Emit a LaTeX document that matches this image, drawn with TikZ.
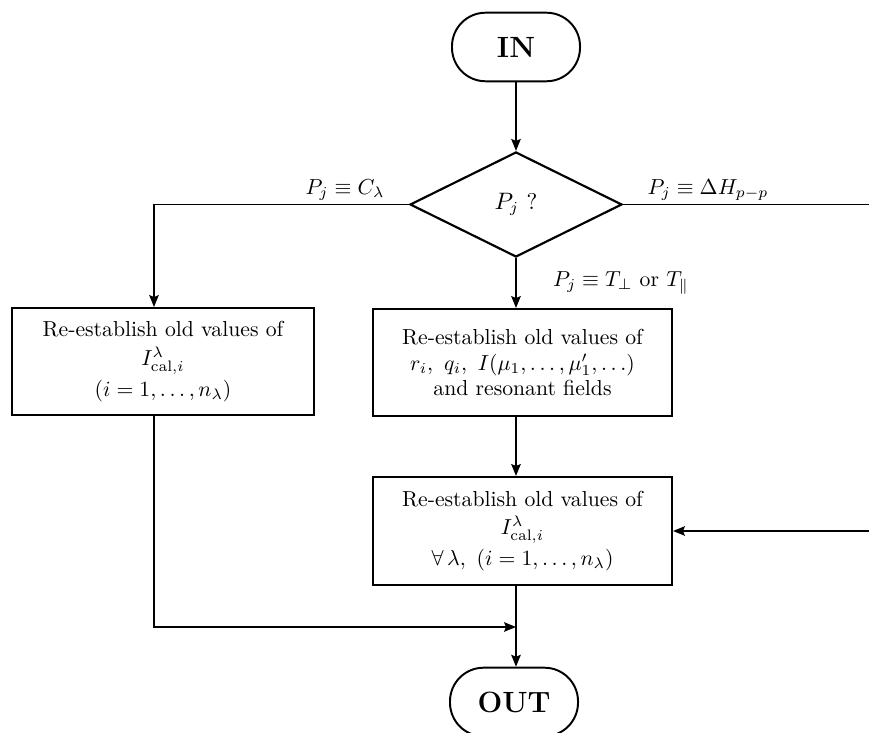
\documentclass[tikz,border=0pt]{standalone}
\usetikzlibrary{shapes.geometric,arrows.meta}
\begin{document}
\begin{tikzpicture}[x=0.4608pt,y=-0.4608pt,
  terminal/.style={draw,line width=0.9pt,rounded corners=15.5pt,minimum width=59pt,minimum height=31.6pt,inner sep=0pt,font=\fontsize{13.5}{16}\selectfont\bfseries},
  decision/.style={draw,line width=1pt,shape=diamond,aspect=2,minimum width=97.7pt,minimum height=48.4pt,inner sep=0pt,font=\fontsize{10.5}{12}\selectfont},
  procbox/.style={draw,line width=0.9pt,align=center,inner sep=0pt,font=\fontsize{10}{11.6}\selectfont},
  lab/.style={inner sep=1pt,font=\fontsize{10}{12}\selectfont},
  conn/.style={line width=0.7pt},
  arr/.style={line width=0.7pt,-{Stealth[length=5.5pt,width=4.4pt,inset=0.9pt]}}]
\clip (0,0) rectangle (869,733);
% nodes
\node[terminal] (in) at (516,47) {IN};
\node[decision] (dia) at (516,204.5) {$P_j$ ?};
\node[procbox,minimum width=139.2pt,minimum height=49.3pt] (lbox) at (163,361.5)
  {Re-establish old values of\\[1.5pt] $I^{\lambda}_{\mathrm{cal},i}$\\[1.5pt] $(i=1,\ldots,n_\lambda)$};
\node[procbox,minimum width=137.8pt,minimum height=49.3pt] (mid) at (522.5,362.5)
  {Re-establish old values of\\ $r_i,\ q_i,\ I(\mu_1,\ldots,\mu_1',\ldots)$\\ and resonant fields};
\node[procbox,minimum width=137.8pt,minimum height=49.8pt] (low) at (522.5,531)
  {Re-establish old values of\\[1.5pt] $I^{\lambda}_{\mathrm{cal},i}$\\[1.5pt] $\forall\,\lambda,\ (i=1,\ldots,n_\lambda)$};
\node[terminal] (out) at (514,702) {OUT};
% labels
\node[lab] (labC) at (345,190) {$P_j\equiv C_\lambda$};
\node[lab] (labH) at (708,190) {$P_j\equiv\Delta H_{p-p}$};
\node[lab] (labT) at (621,283) {$P_j\equiv T_\perp$ or $T_\parallel$};
% coordinates
\coordinate (lc) at (154,204.5);
\coordinate (rc) at (869,204.5);
\coordinate (rin) at (869,531);
\coordinate (join) at (516,627);
% connectors
\draw[arr] (in.south) -- (dia.north);
\draw[arr] (dia.west) -- (lc) -- (lc |- lbox.north);
\draw[conn] (dia.east) -- (rc);
\draw[arr] (dia.south) -- (dia.south |- mid.north);
\draw[arr] (mid.south -| dia.south) -- (dia.south |- low.north);
\draw[arr] (rin) -- (low.east);
\draw[arr] (lc |- lbox.south) -- (lc |- join) -- (join);
\draw[arr] (low.south -| dia.south) -- (dia.south |- out.north);
\end{tikzpicture}
\end{document}
